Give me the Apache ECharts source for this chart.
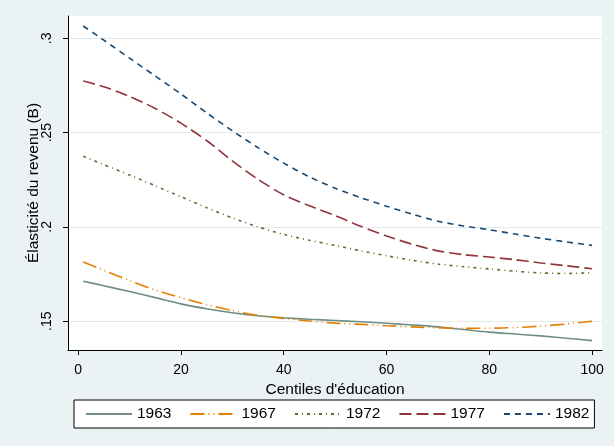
<!DOCTYPE html>
<html>
<head>
<meta charset="utf-8">
<script src="https://cdn.jsdelivr.net/npm/echarts@6/dist/echarts.min.js"></script>
<style>
  html, body { margin: 0; padding: 0; background: #eaf2f3; }
  #chart { width: 614px; height: 446px; }
</style>
</head>
<body>
<div id="chart"></div>
<script>
// centiles d'éducation (x)
const centiles = [1, 5, 10, 15, 20, 25, 30, 35, 40, 45, 50, 55, 60, 65, 70, 75, 80, 85, 90, 95, 100]

// élasticité du revenu par année
const y1963 = [0.1712, 0.1688, 0.1657, 0.1625, 0.1592, 0.1566, 0.1545, 0.1529, 0.1518, 0.1510, 0.1504, 0.1497, 0.1489, 0.1480, 0.1470, 0.1456, 0.1442, 0.1432, 0.1422, 0.1410, 0.1397]
const y1967 = [0.1814, 0.1770, 0.1715, 0.1665, 0.1625, 0.1588, 0.1556, 0.1531, 0.1515, 0.1501, 0.1490, 0.1483, 0.1476, 0.1470, 0.1465, 0.1462, 0.1463, 0.1466, 0.1474, 0.1485, 0.1500]
const y1972 = [0.2374, 0.2330, 0.2275, 0.2218, 0.2160, 0.2102, 0.2048, 0.2000, 0.1960, 0.1929, 0.1902, 0.1873, 0.1847, 0.1823, 0.1803, 0.1789, 0.1777, 0.1765, 0.1756, 0.1753, 0.1757]
const y1977 = [0.2774, 0.2743, 0.2692, 0.2628, 0.2550, 0.2458, 0.2350, 0.2252, 0.2170, 0.2112, 0.2060, 0.2003, 0.1952, 0.1908, 0.1873, 0.1853, 0.1840, 0.1826, 0.1809, 0.1794, 0.1778]
const y1982 = [0.3065, 0.2990, 0.2895, 0.2800, 0.2705, 0.2605, 0.2510, 0.2420, 0.2338, 0.2265, 0.2205, 0.2155, 0.2110, 0.2068, 0.2030, 0.2005, 0.1985, 0.1962, 0.1940, 0.1920, 0.1902]

const years = ['1963', '1967', '1972', '1977', '1982']
const xTicks = [0, 20, 40, 60, 80, 100]
const yTicks = [0.15, 0.2, 0.25, 0.3]

const seriesData = [y1963, y1967, y1972, y1977, y1982]
const colors = ['#6e8e84', '#e37e00', '#55752f', '#90353b', '#1a476f']
const dashes = ['solid', [14, 4, 1, 4, 1, 4], [3, 4, 1, 4], [12, 5], [6, 5]]

const chart = echarts.init(document.getElementById('chart'))
const font = 'Liberation Sans, Arial, sans-serif'

let option = {
    backgroundColor: '#eaf2f3',
    animation: false,
    textStyle: { fontFamily: font },
    grid: {
        left: 68,
        right: 12,
        top: 16,
        bottom: 96,
        show: true,
        backgroundColor: '#ffffff',
        borderWidth: 0
    },
    legend: {
        data: years,
        left: 74,
        top: 400,
        orient: 'horizontal',
        itemWidth: 46,
        itemHeight: 14,
        itemGap: 18,
        padding: [6, 5, 6, 11],
        borderColor: '#000',
        borderWidth: 1,
        backgroundColor: '#fff',
        borderRadius: 0,
        itemStyle: { opacity: 0 },
        textStyle: { fontSize: 15.5, color: '#000', fontFamily: font }
    },
    xAxis: {
        type: 'value',
        min: -1.97,
        max: 101.93,
        name: "Centiles d'éducation",
        nameLocation: 'middle',
        nameGap: 26,
        nameTextStyle: { fontSize: 15.5, color: '#000' },
        axisLine: { onZero: false, lineStyle: { color: '#000', width: 1 } },
        axisTick: { show: true, length: 5, lineStyle: { color: '#000' }, customValues: xTicks },
        axisLabel: { fontSize: 14, color: '#000', margin: 13, customValues: xTicks },
        splitLine: { show: false }
    },
    yAxis: {
        type: 'value',
        min: 0.13473,
        max: 0.31182,
        name: 'Élasticité du revenu (B)',
        nameLocation: 'middle',
        nameRotate: 90,
        nameGap: 26,
        nameMoveOverlap: false,
        nameTextStyle: { fontSize: 15.5, color: '#000' },
        axisLine: { show: true, onZero: false, lineStyle: { color: '#000', width: 1 } },
        axisTick: { show: true, length: 5, lineStyle: { color: '#000' }, customValues: yTicks },
        axisLabel: {
            fontSize: 14,
            color: '#000',
            rotate: 90,
            margin: 14,
            customValues: yTicks,
            formatter: (v) => String(+v.toFixed(2)).replace(/^0/, '')
        },
        splitLine: { show: true, lineStyle: { color: '#e4eaec', width: 1 } }
    },
    series: years.map((name, i) => ({
        name: name,
        type: 'line',
        symbol: 'none',
        smooth: 0.25,
        color: colors[i],
        lineStyle: { color: colors[i], width: 1.6, type: dashes[i] },
        data: centiles.map((c, j) => [c, seriesData[i][j]])
    }))
}
chart.setOption(option)
</script>
</body>
</html>
